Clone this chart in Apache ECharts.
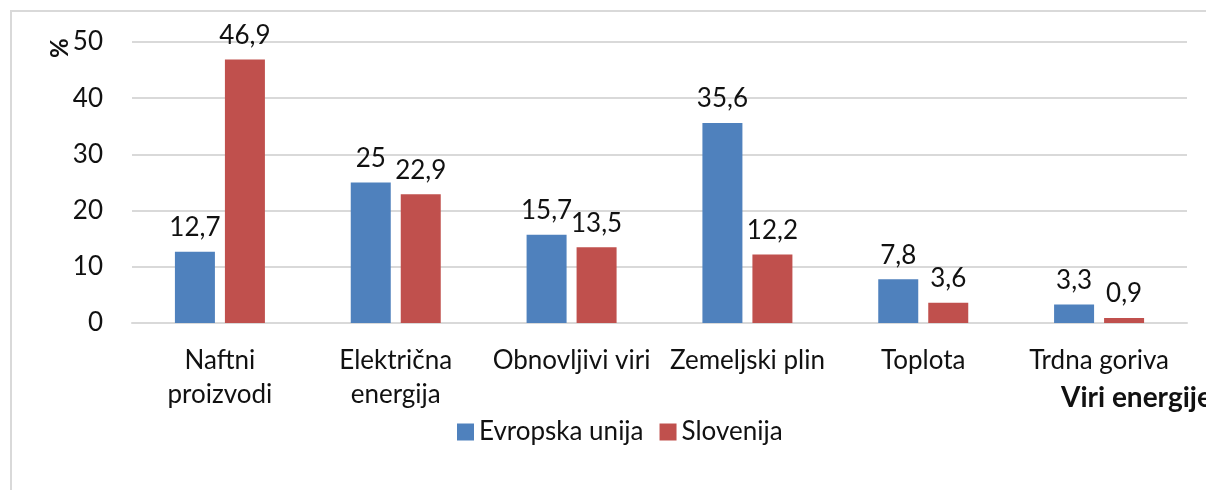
<!DOCTYPE html>
<html>
<head>
<meta charset="utf-8">
<style>
  html, body { margin: 0; padding: 0; background: #fff; }
  #chart { width: 1206px; height: 490px; }
</style>
<script src="https://cdn.jsdelivr.net/npm/echarts@6/dist/echarts.min.js"></script>
</head>
<body>
<div id="chart"></div>
<script>
// podatki
const categories = ['Naftni\nproizvodi', 'Električna\nenergija', 'Obnovljivi viri', 'Zemeljski plin', 'Toplota', 'Trdna goriva'];
const euValues = [12.7, 25, 15.7, 35.6, 7.8, 3.3];
const siValues = [46.9, 22.9, 13.5, 12.2, 3.6, 0.9];
const seriesNames = ['Evropska unija', 'Slovenija'];

const FONT = 'Lato, "Open Sans", sans-serif';
const FS = 26;

const chart = echarts.init(document.getElementById('chart'));

// vejica kot decimalni ločilnik
function fmt(v) {
  return String(v).replace('.', ',');
}

const labelStyle = {
  show: true,
  position: 'top',
  distance: 11,
  color: '#111',
  fontSize: FS,
  fontFamily: FONT,
  formatter: p => fmt(p.value)
};

chart.setOption({
  animation: false,
  color: ['#4F81BD', '#C0504D'],
  grid: { left: 132, right: 19, top: 42, bottom: 167 },
  legend: {
    data: seriesNames,
    left: 452,
    top: 414,
    itemWidth: 17,
    itemHeight: 17,
    itemGap: 16,
    icon: 'rect',
    textStyle: { fontSize: FS, fontFamily: FONT, color: '#111' }
  },
  xAxis: {
    type: 'category',
    data: categories,
    axisLine: { lineStyle: { color: '#d9d9d9', width: 2 } },
    axisTick: { show: false },
    axisLabel: {
      margin: 21,
      interval: 0,
      fontSize: FS,
      lineHeight: 34,
      fontFamily: FONT,
      color: '#111'
    }
  },
  yAxis: {
    type: 'value',
    min: 0,
    max: 50,
    interval: 10,
    axisLine: { show: false },
    axisTick: { show: false },
    splitLine: { lineStyle: { color: '#d9d9d9', width: 2 } },
    axisLabel: { margin: 29, fontSize: FS, fontFamily: FONT, color: '#111' }
  },
  graphic: [
    {
      type: 'rect',
      shape: { x: 11, y: 11, width: 1400, height: 700 },
      style: { fill: 'none', stroke: '#d9d9d9', lineWidth: 2 },
      silent: true,
      z: -10
    },
    {
      type: 'text',
      x: 48,
      y: 58,
      rotation: Math.PI / 2,
      style: { text: '%', font: 'bold 24px ' + FONT, fill: '#111' }
    },
    {
      type: 'text',
      x: 1061,
      y: 384,
      style: { text: 'Viri energije', font: 'bold 28px ' + FONT, fill: '#111' }
    }
  ],
  series: [
    {
      name: seriesNames[0],
      type: 'bar',
      data: euValues,
      barWidth: 40,
      barGap: '25%',
      label: labelStyle
    },
    {
      name: seriesNames[1],
      type: 'bar',
      data: siValues,
      barWidth: 40,
      label: labelStyle
    }
  ]
});
</script>
</body>
</html>
